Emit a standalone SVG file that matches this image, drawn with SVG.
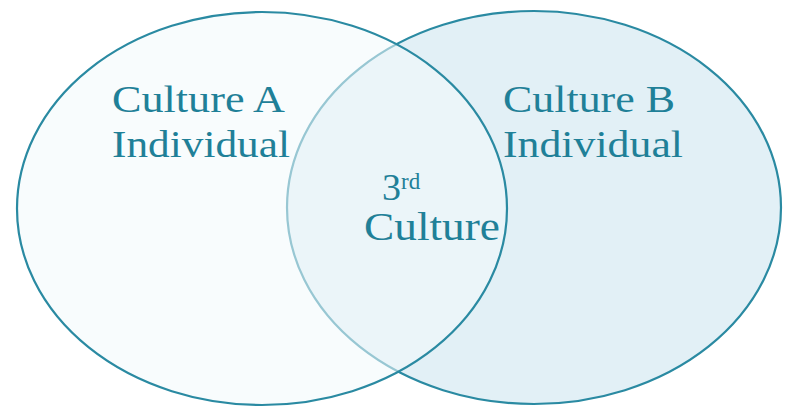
<svg xmlns="http://www.w3.org/2000/svg" width="790" height="410" viewBox="0 0 790 410">
<style>
.circ{stroke:#2a8aa2;stroke-width:2.2}
.lbl{font-family:"Liberation Serif","Times New Roman",serif;fill:#1f8098}
</style>
<rect width="790" height="410" fill="#ffffff"/>
<g id="cultureB">
<ellipse class="circ" cx="534" cy="207.5" rx="247" ry="196.5" fill="#e2f0f6"/>
</g>
<g id="cultureA">
<ellipse class="circ" cx="262" cy="208.5" rx="245" ry="196.5" fill="#f3f9fc" fill-opacity="0.55"/>
</g>
<g id="labelA">
<text class="lbl" x="112" y="112" font-size="37" textLength="173" lengthAdjust="spacingAndGlyphs">Culture A</text>
<text class="lbl" x="112" y="157" font-size="37" textLength="178" lengthAdjust="spacingAndGlyphs">Individual</text>
</g>
<g id="labelB">
<text class="lbl" x="503" y="112" font-size="37" textLength="172" lengthAdjust="spacingAndGlyphs">Culture B</text>
<text class="lbl" x="503" y="157" font-size="37" textLength="180" lengthAdjust="spacingAndGlyphs">Individual</text>
</g>
<g id="third">
<text class="lbl" x="382" y="200" font-size="38">3</text>
<text class="lbl" x="401" y="189" font-size="23">rd</text>
<text class="lbl" x="364" y="240" font-size="40" textLength="136" lengthAdjust="spacingAndGlyphs">Culture</text>
</g>
</svg>
